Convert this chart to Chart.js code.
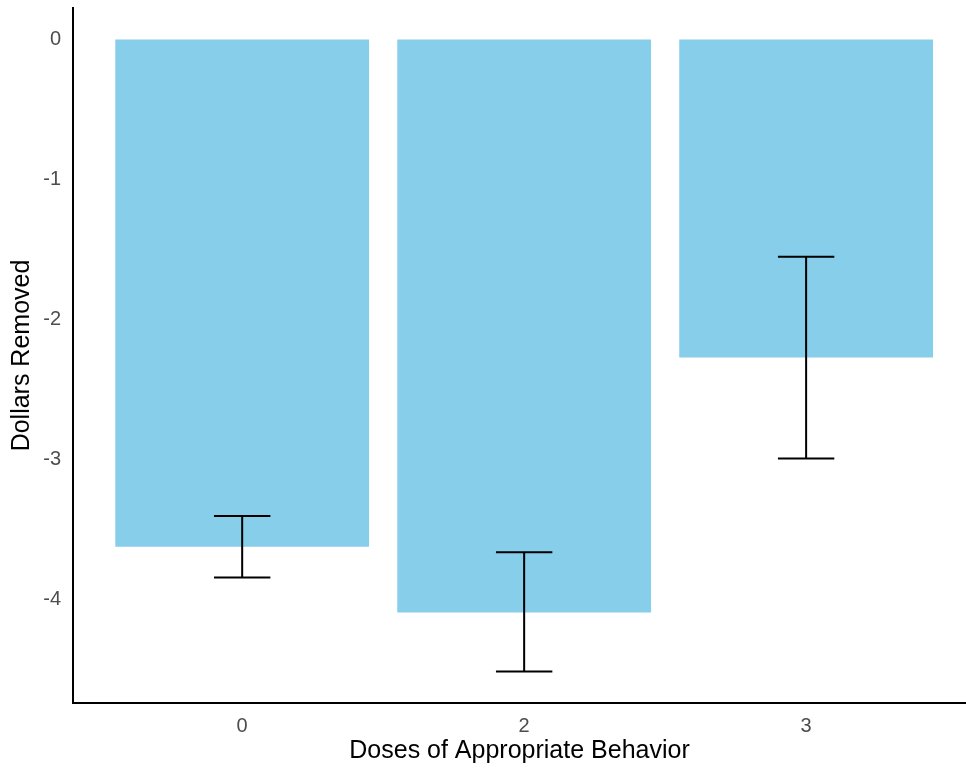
<!DOCTYPE html>
<html>
<head>
<meta charset="utf-8">
<script src="https://cdn.jsdelivr.net/npm/chart.js@4/dist/chart.umd.min.js"></script>
<style>
  html, body { margin: 0; padding: 0; background: #fff; overflow: hidden; }
</style>
</head>
<body>
<canvas id="doseChart" width="966" height="768"></canvas>
<script>
// values
const doses = ["0", "2", "3"];
const meanRemoved = [-3.62, -4.09, -2.27];
const errLow = [-3.84, -4.51, -2.99];
const errHigh = [-3.40, -3.66, -1.55];
const yTicks = [0, -1, -2, -3, -4];

const tickGray = "#4D4D4D";
Chart.defaults.font.family = "'Liberation Sans', Arial, sans-serif";

// positions 1..n on a linear x scale, labelled with the dose names
const xPos = doses.map((d, i) => i + 1);

// error bars drawn on top of the bars
const errorBars = {
  id: "errorBars",
  afterDatasetsDraw(chart) {
    const ctx = chart.ctx;
    const x = chart.scales.x;
    const y = chart.scales.y;
    ctx.save();
    ctx.strokeStyle = "#000";
    ctx.lineWidth = 2;
    xPos.forEach((p, i) => {
      const cx = x.getPixelForValue(p);
      const x0 = x.getPixelForValue(p - 0.1);
      const x1 = x.getPixelForValue(p + 0.1);
      const yLo = y.getPixelForValue(errLow[i]);
      const yHi = y.getPixelForValue(errHigh[i]);
      ctx.beginPath();
      ctx.moveTo(cx, yLo);
      ctx.lineTo(cx, yHi);
      ctx.moveTo(x0, yLo);
      ctx.lineTo(x1, yLo);
      ctx.moveTo(x0, yHi);
      ctx.lineTo(x1, yHi);
      ctx.stroke();
    });
    ctx.restore();
  }
};

const ctx = document.getElementById("doseChart").getContext("2d");
const doseChart = new Chart(ctx, {
  type: "bar",
  data: {
    datasets: [
      {
        data: xPos.map((p, i) => ({ x: p, y: meanRemoved[i] })),
        backgroundColor: "#87CEEB",
        borderWidth: 0,
        barPercentage: 0.9,
        categoryPercentage: 1,
      },
    ],
  },
  options: {
    responsive: false,
    animation: false,
    layout: { padding: { top: 8, left: 0, right: 0, bottom: 0 } },
    plugins: {
      legend: { display: false },
      tooltip: { enabled: false },
    },
    scales: {
      x: {
        type: "linear",
        offset: false,
        min: 0.4,
        max: 3.567,
        grid: { display: false, drawTicks: false },
        border: { display: true, color: "#000", width: 2 },
        afterBuildTicks: (scale) => {
          scale.ticks = xPos.map((v) => ({ value: v }));
        },
        afterFit: (scale) => {
          scale.height = 65;
          scale.paddingLeft = 0;
          scale.paddingRight = 0;
        },
        ticks: {
          color: tickGray,
          font: { size: 20 },
          padding: 11,
          maxRotation: 0,
          callback: (v) => doses[xPos.indexOf(v)],
        },
        title: {
          display: true,
          text: "Doses of Appropriate Behavior",
          color: "#000",
          font: { size: 25 },
          padding: { top: 0, bottom: 2 },
        },
      },
      y: {
        min: -4.7355,
        max: 0.2255,
        grid: { display: false, drawTicks: false },
        border: { display: true, color: "#000", width: 2 },
        afterBuildTicks: (scale) => {
          scale.ticks = yTicks.map((v) => ({ value: v }));
        },
        afterFit: (scale) => {
          scale.width = 73;
          scale.paddingTop = 0;
          scale.paddingBottom = 0;
        },
        ticks: {
          color: tickGray,
          font: { size: 20 },
          padding: 12,
        },
        title: {
          display: true,
          text: "Dollars Removed",
          color: "#000",
          font: { size: 25 },
          padding: { top: 7, bottom: 0 },
        },
      },
    },
  },
  plugins: [errorBars],
});
</script>
</body>
</html>
